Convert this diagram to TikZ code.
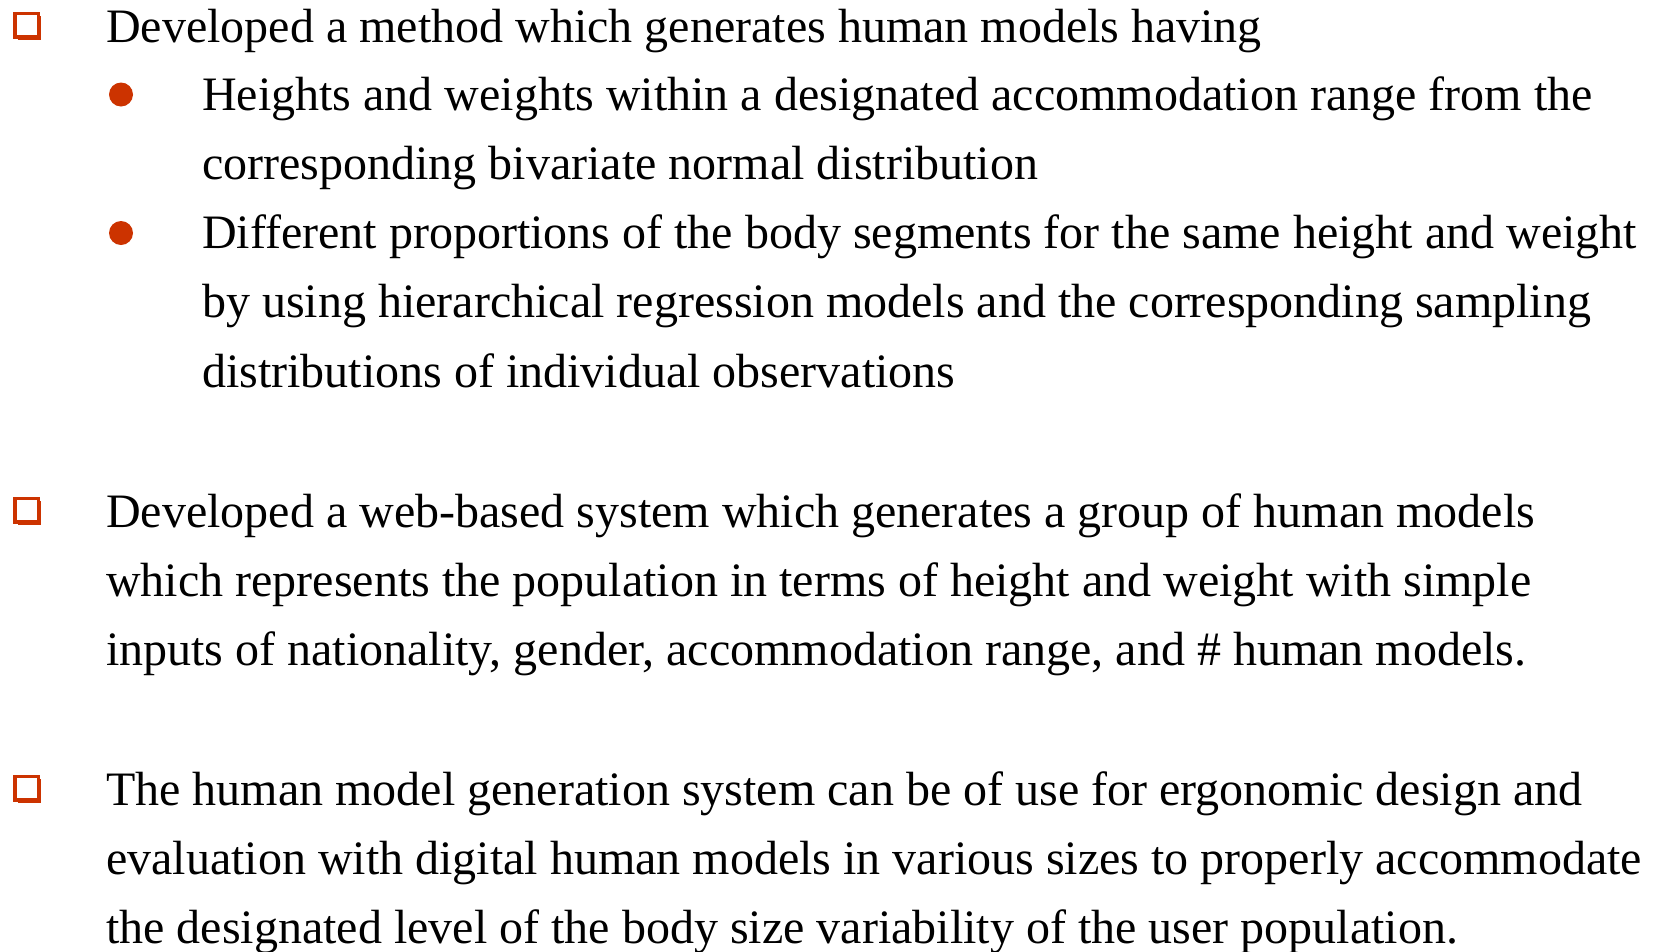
\documentclass[tikz,border=0pt]{standalone}
\usepackage{fontspec}
\setmainfont{Liberation Serif}
\usetikzlibrary{shadows}
\definecolor{bulletred}{HTML}{CC3300}
\tikzset{
  sqbox/.style={shape=rectangle,draw=bulletred,line width=3.5pt,fill=white,
    minimum size=23.5pt,inner sep=0pt,
    drop shadow={shadow xshift=3pt,shadow yshift=-3pt,fill=bulletred,opacity=1}},
  dotbox/.style={shape=circle,fill=bulletred,minimum size=24pt,inner sep=0pt},
  itemtext/.style={anchor=base west,align=left,inner sep=0pt,
    font=\fontsize{48}{69.3}\selectfont}
}
\begin{document}
\begin{tikzpicture}[x=1pt,y=-1pt]
\useasboundingbox (0,0) rectangle (1657,951);
\node[sqbox] (S1) at (26.5,25) {};
\node[sqbox] (S2) at (26.5,510) {};
\node[sqbox] (S3) at (26.5,788) {};
\node[dotbox] (D1) at (121,94.5) {};
\node[dotbox] (D2) at (121,233) {};
% multi-line texts sit on the baseline of their last line
\node[itemtext] (T1) at (106,42) {Developed a method which generates human models having};
\node[itemtext] (U1) at (202,179.3) {Heights and weights within a designated accommodation range from the\\corresponding bivariate normal distribution};
\node[itemtext] (U2) at (202,387.2) {Different proportions of the body segments for the same height and weight\\by using hierarchical regression models and the corresponding sampling\\distributions of individual observations};
\node[itemtext] (T2) at (106,665.6) {Developed a web-based system which generates a group of human models\\which represents the population in terms of height and weight with simple\\inputs of nationality, gender, accommodation range, and \# human models.};
\node[itemtext] (T3) at (106,943.6) {The human model generation system can be of use for ergonomic design and\\evaluation with digital human models in various sizes to properly accommodate\\the designated level of the body size variability of the user population.};
\end{tikzpicture}
\end{document}
